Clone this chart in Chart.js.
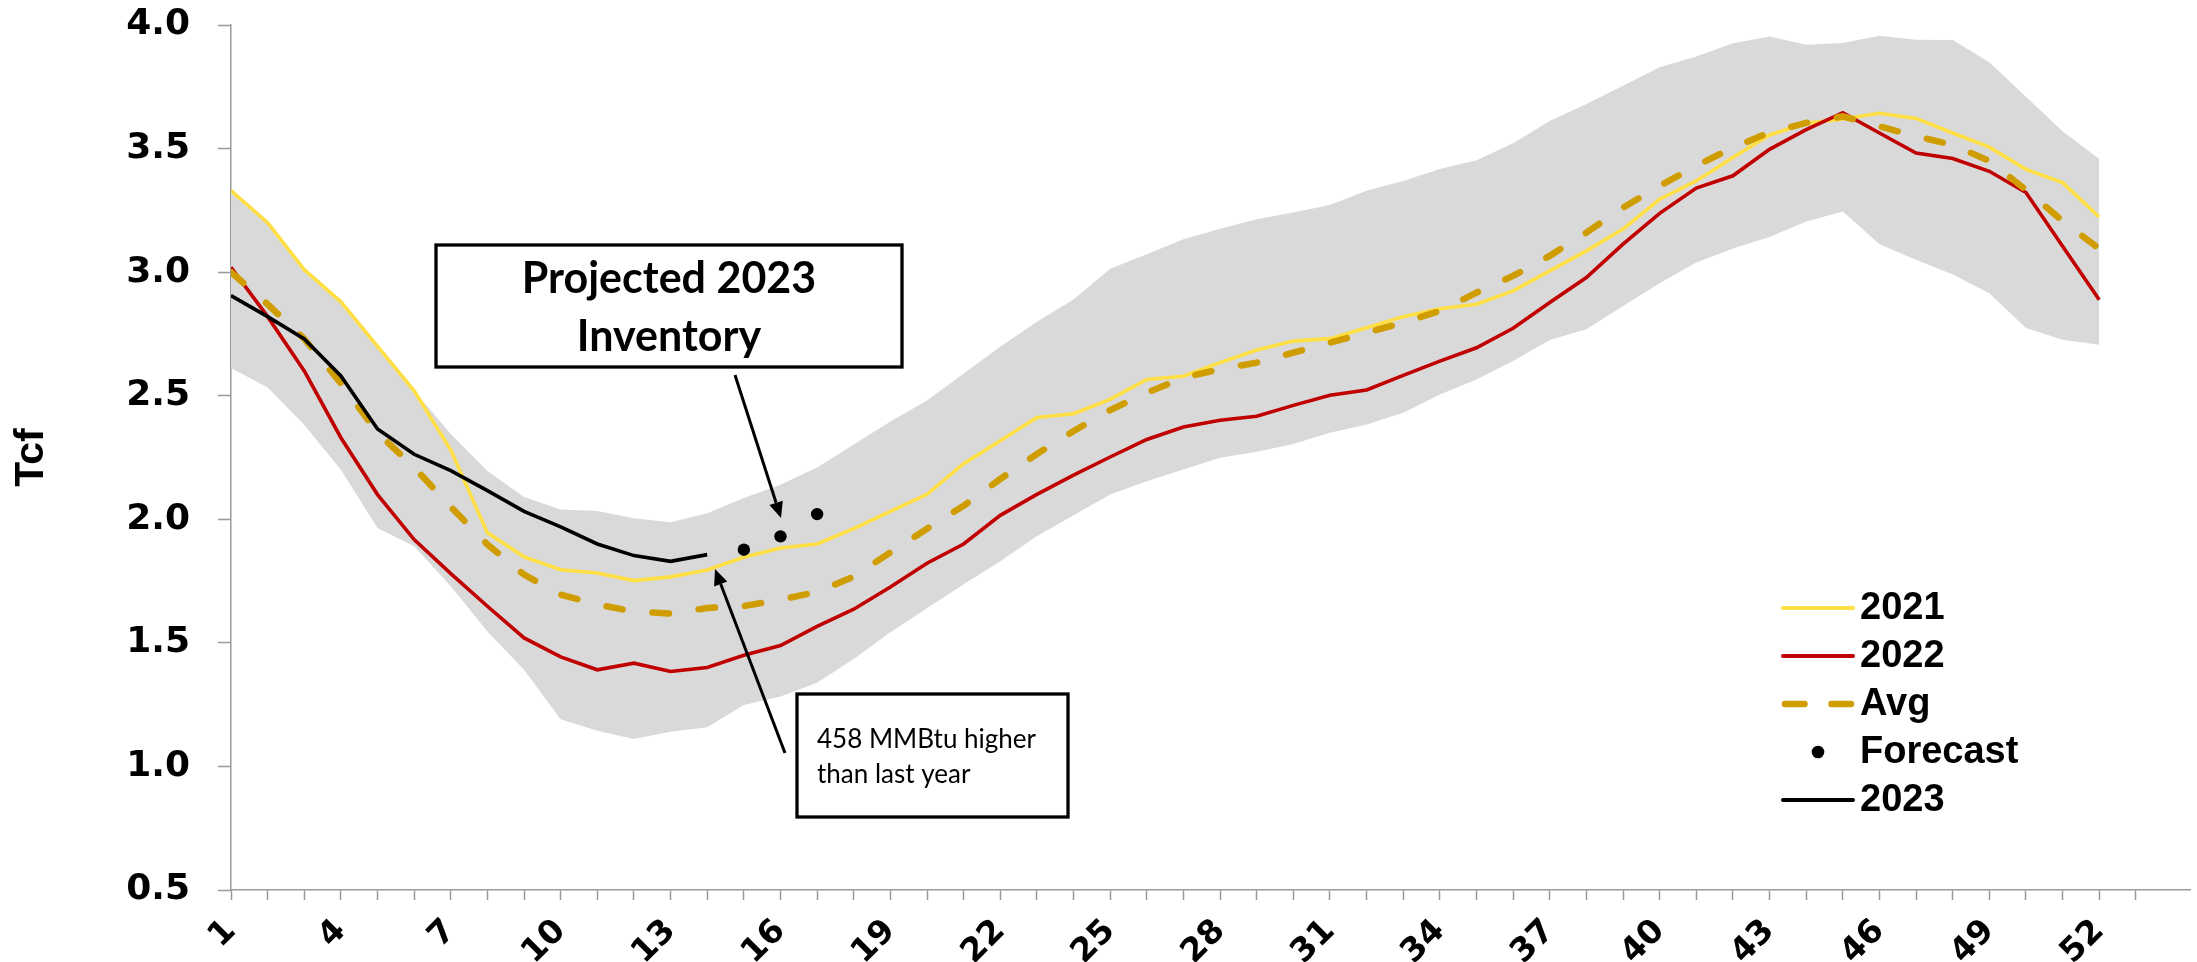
<!DOCTYPE html>
<html>
<head>
<meta charset="utf-8">
<script src="https://cdn.jsdelivr.net/npm/chart.js@4.4.1/dist/chart.umd.min.js"></script>
<style>
  html, body { margin: 0; padding: 0; background: #ffffff; overflow: hidden; }
  #wrap { width: 2197px; height: 962px; position: relative; }
</style>
</head>
<body>
<div id="wrap"><canvas id="storage" width="2197" height="962"></canvas></div>
<script>
// Week of year for every weekly value
const weeks = [1, 2, 3, 4, 5, 6, 7, 8, 9, 10, 11, 12, 13, 14, 15, 16, 17, 18, 19, 20,
  21, 22, 23, 24, 25, 26, 27, 28, 29, 30, 31, 32, 33, 34, 35, 36, 37, 38, 39, 40,
  41, 42, 43, 44, 45, 46, 47, 48, 49, 50, 51, 52];

// Week numbers printed under the axis
const weekTickLabels = ['1', '4', '7', '10', '13', '16', '19', '22', '25', '28', '31', '34',
  '37', '40', '43', '46', '49', '52'];

// Working gas in storage, Tcf
const storage2021 = [3.33, 3.20, 3.01, 2.88, 2.70, 2.52, 2.28, 1.945, 1.848, 1.796, 1.783, 1.752,
  1.767, 1.795, 1.846, 1.884, 1.900, 1.962, 2.032, 2.101, 2.225, 2.318, 2.412, 2.427, 2.485, 2.566,
  2.579, 2.634, 2.685, 2.721, 2.731, 2.775, 2.820, 2.852, 2.870, 2.924, 3.005, 3.086, 3.174, 3.295,
  3.369, 3.464, 3.555, 3.602, 3.620, 3.643, 3.622, 3.563, 3.506, 3.416, 3.362, 3.223];

const storage2022 = [3.02, 2.82, 2.60, 2.33, 2.10, 1.918, 1.780, 1.648, 1.520, 1.443, 1.391, 1.418,
  1.384, 1.400, 1.450, 1.489, 1.567, 1.636, 1.726, 1.822, 1.900, 2.016, 2.101, 2.179, 2.252, 2.323,
  2.373, 2.401, 2.417, 2.461, 2.502, 2.523, 2.582, 2.640, 2.694, 2.773, 2.877, 2.978, 3.113, 3.238,
  3.340, 3.390, 3.497, 3.577, 3.645, 3.563, 3.482, 3.460, 3.408, 3.322, 3.105, 2.888];

const storageAvg = [3.00, 2.87, 2.73, 2.55, 2.35, 2.21, 2.05, 1.898, 1.776, 1.695, 1.655, 1.627,
  1.618, 1.641, 1.649, 1.675, 1.706, 1.768, 1.866, 1.962, 2.055, 2.163, 2.264, 2.357, 2.442, 2.512,
  2.573, 2.607, 2.634, 2.674, 2.715, 2.755, 2.796, 2.843, 2.917, 2.985, 3.066, 3.160, 3.261, 3.349,
  3.430, 3.504, 3.565, 3.604, 3.630, 3.590, 3.550, 3.515, 3.450, 3.333, 3.207, 3.095];

// Five-year range (upper and lower edge of the shaded band)
const rangeMax = [3.33, 3.20, 3.01, 2.88, 2.70, 2.52, 2.345, 2.195, 2.09, 2.04, 2.034, 2.004,
  1.988, 2.024, 2.086, 2.140, 2.210, 2.303, 2.396, 2.481, 2.590, 2.698, 2.799, 2.889, 3.014, 3.072,
  3.133, 3.176, 3.214, 3.241, 3.272, 3.329, 3.369, 3.417, 3.453, 3.522, 3.612, 3.680, 3.754, 3.829,
  3.873, 3.926, 3.953, 3.920, 3.927, 3.957, 3.940, 3.939, 3.849, 3.710, 3.570, 3.458];

const rangeMin = [2.612, 2.533, 2.383, 2.20, 1.965, 1.891, 1.729, 1.546, 1.391, 1.191, 1.144, 1.111,
  1.140, 1.159, 1.249, 1.283, 1.339, 1.435, 1.543, 1.640, 1.737, 1.830, 1.931, 2.016, 2.100, 2.154,
  2.201, 2.249, 2.273, 2.305, 2.350, 2.384, 2.431, 2.505, 2.566, 2.640, 2.725, 2.769, 2.863, 2.955,
  3.039, 3.096, 3.142, 3.205, 3.245, 3.113, 3.050, 2.990, 2.915, 2.774, 2.726, 2.706];

// 2023 to date
const storage2023 = [2.905, 2.82, 2.73, 2.58, 2.365, 2.263, 2.197, 2.116, 2.032, 1.969, 1.900, 1.853,
  1.830, 1.857];

// Projected weeks
const forecastWeeks = [15, 16, 17];
const forecastValues = [1.877, 1.931, 2.021];

const COLORS = {
  y2021: '#FFDF43',
  y2022: '#C00000',
  avg: '#CF9D00',
  band: '#D9D9D9',
  y2023: '#000000',
  axis: '#9A9A9A'
};

const toPoints = (xs, ys) => ys.map((v, i) => ({ x: xs[i], y: v }));

// Callout boxes, arrows and the legend block
const overlayPlugin = {
  id: 'overlay',
  afterDraw(chart) {
    const ctx = chart.ctx;
    ctx.save();

    // "Projected 2023 Inventory" box
    ctx.fillStyle = '#ffffff';
    ctx.fillRect(436, 245, 466, 122);
    ctx.lineWidth = 3.3;
    ctx.strokeStyle = '#000000';
    ctx.strokeRect(436, 245, 466, 122);
    ctx.fillStyle = '#000000';
    ctx.font = 'bold 43px Lato';
    ctx.textAlign = 'center';
    ctx.textBaseline = 'alphabetic';
    ctx.fillText('Projected 2023', 669, 293);
    ctx.fillText('Inventory', 669, 351);

    // "458 MMBtu higher" box
    ctx.fillStyle = '#ffffff';
    ctx.fillRect(797, 694, 271, 123);
    ctx.lineWidth = 3.3;
    ctx.strokeRect(797, 694, 271, 123);
    ctx.fillStyle = '#000000';
    ctx.font = '26px Lato';
    ctx.textAlign = 'left';
    ctx.fillText('458 MMBtu higher', 817, 748);
    ctx.fillText('than last year', 817, 783);

    // arrows
    const arrow = (x0, y0, x1, y1) => {
      const ang = Math.atan2(y1 - y0, x1 - x0);
      const head = 16, half = 7;
      const bx = x1 - Math.cos(ang) * head, by = y1 - Math.sin(ang) * head;
      ctx.strokeStyle = '#000000';
      ctx.lineWidth = 3;
      ctx.lineCap = 'butt';
      ctx.beginPath();
      ctx.moveTo(x0, y0);
      ctx.lineTo(bx, by);
      ctx.stroke();
      ctx.fillStyle = '#000000';
      ctx.beginPath();
      ctx.moveTo(x1, y1);
      ctx.lineTo(bx + Math.sin(ang) * half, by - Math.cos(ang) * half);
      ctx.lineTo(bx - Math.sin(ang) * half, by + Math.cos(ang) * half);
      ctx.closePath();
      ctx.fill();
    };
    arrow(735, 375, 781, 518);
    arrow(785, 753, 715, 569);

    // legend
    const lx0 = 1783, lx1 = 1853, tx = 1860;
    const rows = [608, 656, 704, 752, 800];
    ctx.lineCap = 'round';
    ctx.lineWidth = 4;
    ctx.strokeStyle = COLORS.y2021;
    ctx.beginPath(); ctx.moveTo(lx0, rows[0]); ctx.lineTo(lx1, rows[0]); ctx.stroke();
    ctx.strokeStyle = COLORS.y2022;
    ctx.beginPath(); ctx.moveTo(lx0, rows[1]); ctx.lineTo(lx1, rows[1]); ctx.stroke();
    ctx.strokeStyle = COLORS.avg;
    ctx.lineWidth = 6.5;
    ctx.setLineDash([19.5, 27]);
    ctx.beginPath(); ctx.moveTo(lx0 + 2, rows[2]); ctx.lineTo(lx1, rows[2]); ctx.stroke();
    ctx.setLineDash([]);
    ctx.fillStyle = '#000000';
    ctx.beginPath(); ctx.arc(1818, rows[3], 6.3, 0, Math.PI * 2); ctx.fill();
    ctx.strokeStyle = COLORS.y2023;
    ctx.lineWidth = 4;
    ctx.beginPath(); ctx.moveTo(lx0, rows[4]); ctx.lineTo(lx1, rows[4]); ctx.stroke();

    ctx.font = 'bold 38px "Liberation Sans"';
    ctx.textAlign = 'left';
    ctx.textBaseline = 'middle';
    ctx.fillStyle = '#000000';
    ['2021', '2022', 'Avg', 'Forecast', '2023'].forEach((t, i) => ctx.fillText(t, tx, rows[i] + 1));

    ctx.restore();
  }
};

const lineBase = { pointRadius: 0, pointHoverRadius: 0, tension: 0, fill: false };

new Chart(document.getElementById('storage'), {
  type: 'line',
  data: {
    datasets: [
      Object.assign({}, lineBase, {
        label: 'Range max', data: toPoints(weeks, rangeMax),
        borderColor: 'rgba(0,0,0,0)', borderWidth: 1,
        backgroundColor: COLORS.band, fill: '+1', order: 6
      }),
      Object.assign({}, lineBase, {
        label: 'Range min', data: toPoints(weeks, rangeMin),
        borderColor: 'rgba(0,0,0,0)', borderWidth: 1, order: 5
      }),
      Object.assign({}, lineBase, {
        label: '2021', data: toPoints(weeks, storage2021),
        borderColor: COLORS.y2021, borderWidth: 3.6, order: 4
      }),
      Object.assign({}, lineBase, {
        label: '2022', data: toPoints(weeks, storage2022),
        borderColor: COLORS.y2022, borderWidth: 3.6, order: 3
      }),
      Object.assign({}, lineBase, {
        label: 'Avg', data: toPoints(weeks, storageAvg),
        borderColor: COLORS.avg, borderWidth: 6.5,
        borderDash: [16.5, 30], borderCapStyle: 'round', order: 2
      }),
      Object.assign({}, lineBase, {
        label: '2023', data: toPoints(weeks, storage2023),
        borderColor: COLORS.y2023, borderWidth: 3.6, order: 1
      }),
      {
        label: 'Forecast', data: toPoints(forecastWeeks, forecastValues),
        showLine: false, pointRadius: 6.2, pointHoverRadius: 6.2,
        pointBackgroundColor: '#000000', pointBorderWidth: 0, borderColor: '#000000', order: 0
      }
    ]
  },
  options: {
    responsive: false,
    animation: false,
    events: [],
    layout: { padding: 0 },
    plugins: { legend: { display: false }, tooltip: { enabled: false } },
    scales: {
      x: {
        type: 'linear',
        min: 1,
        max: 54.5,
        afterBuildTicks(scale) {
          scale.ticks = scale.ticks.filter(t => Number.isInteger(t.value));
        },
        afterFit(scale) {
          scale.height = 72;
          scale.paddingLeft = 0;
          scale.paddingRight = 0;
        },
        grid: { drawOnChartArea: false, drawTicks: true, tickLength: 10, tickColor: COLORS.axis, tickWidth: 1.5 },
        border: { display: true, color: COLORS.axis, width: 1.5 },
        ticks: {
          stepSize: 1,
          autoSkip: false,
          minRotation: 45,
          maxRotation: 45,
          padding: 12,
          color: '#000000',
          font: { family: 'DejaVu Sans', weight: 'bold', size: 33 },
          callback(value) {
            const s = String(value);
            return weekTickLabels.includes(s) ? s : '';
          }
        }
      },
      y: {
        min: 0.5,
        max: 4,
        afterFit(scale) {
          scale.width = 231;
          scale.paddingTop = 25;
          scale.paddingBottom = 0;
        },
        grid: { drawOnChartArea: false, drawTicks: true, tickLength: 13, tickColor: COLORS.axis, tickWidth: 1.5 },
        border: { display: true, color: COLORS.axis, width: 1.5 },
        title: {
          display: true,
          text: 'Tcf',
          color: '#000000',
          font: { family: 'Liberation Sans', weight: 'bold', size: 41 },
          padding: { top: 7, bottom: 0 }
        },
        ticks: {
          stepSize: 0.5,
          padding: 28,
          color: '#000000',
          font: { family: 'DejaVu Sans', weight: 'bold', size: 36 },
          callback(value) { return Number(value).toFixed(1); }
        }
      }
    }
  },
  plugins: [overlayPlugin]
});
</script>
</body>
</html>
